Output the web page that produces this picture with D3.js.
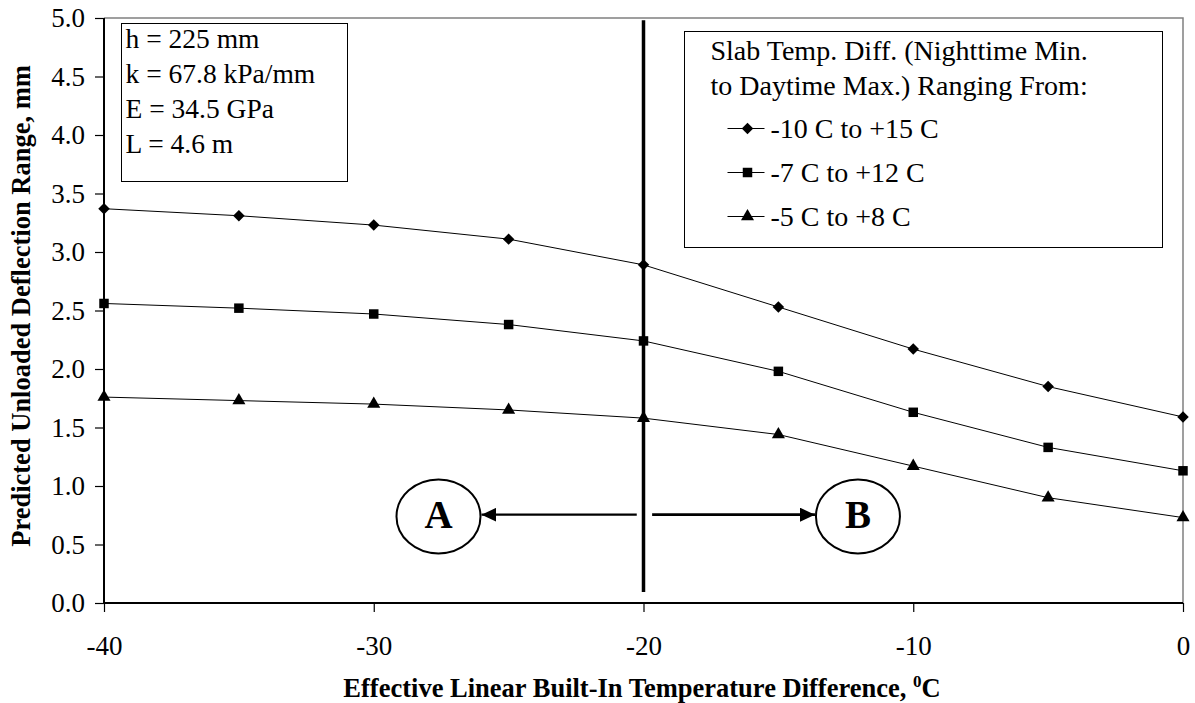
<!DOCTYPE html>
<html>
<head>
<meta charset="utf-8">
<script src="https://cdn.jsdelivr.net/npm/d3@7/dist/d3.min.js"></script>
<style>
  html, body { margin: 0; padding: 0; background: #fff; }
  svg { display: block; font-family: "Liberation Serif", "Times New Roman", serif; }
</style>
</head>
<body>
<svg id="chart" width="1195" height="703"></svg>
<script>
// Built-in temperature difference (x) and predicted deflection range per series
const tempDiff = [-40, -35, -30, -25, -20, -15, -10, -5, 0];
const seriesLabels = ["-10 C to +15 C", "-7 C to +12 C", "-5 C to +8 C"];
const seriesSymbols = ["diamond", "square", "triangle"];
const rangeHigh = [3.37, 3.31, 3.23, 3.11, 2.89, 2.53, 2.17, 1.85, 1.59];
const rangeMid  = [2.56, 2.52, 2.47, 2.38, 2.24, 1.98, 1.63, 1.33, 1.13];
const rangeLow  = [1.76, 1.73, 1.70, 1.65, 1.58, 1.44, 1.17, 0.90, 0.73];
const xTickValues = [-40, -30, -20, -10, 0];
const yTickValues = [0, 0.5, 1, 1.5, 2, 2.5, 3, 3.5, 4, 4.5, 5];
const slabParams = ["h = 225 mm", "k = 67.8 kPa/mm", "E = 34.5 GPa", "L = 4.6 m"];
const legendHeading = ["Slab Temp. Diff. (Nighttime Min.", "to Daytime Max.) Ranging From:"];
const zoneLabels = ["A", "B"];
const zoneCentres = [-27.6, -12.05];
const dividerTemp = -20;

const series = seriesLabels.map((name, i) => ({
  name,
  symbol: seriesSymbols[i],
  values: [rangeHigh, rangeMid, rangeLow][i]
}));

const svg = d3.select("#chart");
const plot = { left: 104, right: 1183, top: 18, bottom: 603 };

const x = d3.scaleLinear().domain([-40, 0]).range([plot.left, plot.right]);
const y = d3.scaleLinear().domain([0, 5]).range([plot.bottom, plot.top]);

// Plot-area frame (top and right edges in grey)
svg.append("path")
  .attr("d", `M${plot.left},${plot.top}H${plot.right}V${plot.bottom}`)
  .attr("fill", "none").attr("stroke", "#808080").attr("stroke-width", 1.5);

// Axes (plain hyphen for negative tick labels)
const xAxis = d3.axisBottom(x).tickValues(xTickValues).tickSize(9).tickPadding(24)
  .tickFormat(d => String(d));
const yAxis = d3.axisLeft(y).tickValues(yTickValues).tickSize(9).tickPadding(10)
  .tickFormat(d3.format(".1f"));

const gx = svg.append("g").attr("transform", `translate(0,${plot.bottom})`).call(xAxis);
const gy = svg.append("g").attr("transform", `translate(${plot.left},0)`).call(yAxis);
[gx, gy].forEach(g => {
  g.select(".domain").attr("stroke", "#000").attr("stroke-width", 2);
  g.selectAll(".tick line").attr("stroke", "#000").attr("stroke-width", 1.2);
  g.selectAll(".tick text").attr("fill", "#000")
    .style("font-family", "'Liberation Serif', serif").style("font-size", "27px");
});
gx.select(".domain").attr("d", `M${plot.left},0H${plot.right}`);
gy.select(".domain").attr("d", `M0,${plot.bottom}V${plot.top}`);

// Axis titles
svg.append("text")
  .attr("transform", `translate(30,306) rotate(-90)`)
  .attr("text-anchor", "middle")
  .style("font-weight", "bold").style("font-size", "26.5px")
  .text("Predicted Unloaded Deflection Range, mm");

const xTitle = svg.append("text")
  .attr("x", 642).attr("y", 697)
  .attr("text-anchor", "middle")
  .style("font-weight", "bold").style("font-size", "26.5px");
xTitle.append("tspan").text("Effective Linear Built-In Temperature Difference, ");
xTitle.append("tspan").attr("dy", -10).style("font-size", "17px").text("0");
xTitle.append("tspan").attr("dy", 10).text("C");

// Symbol generators
function symbolPath(kind) {
  if (kind === "diamond") return d3.symbol(d3.symbolSquare, 66)();
  if (kind === "square") return d3.symbol(d3.symbolSquare, 90)();
  return d3.symbol(d3.symbolTriangle, 74)();
}
function symbolTransform(kind, px, py) {
  return kind === "diamond" ? `translate(${px},${py}) rotate(45)` : `translate(${px},${py})`;
}

// Series lines and markers
const line = d3.line().x((d, i) => x(tempDiff[i])).y(d => y(d));
series.forEach(s => {
  svg.append("path").datum(s.values)
    .attr("d", line).attr("fill", "none").attr("stroke", "#000").attr("stroke-width", 1);
  svg.append("g").selectAll("path").data(s.values).join("path")
    .attr("d", symbolPath(s.symbol))
    .attr("transform", (d, i) => symbolTransform(s.symbol, x(tempDiff[i]), y(d)))
    .attr("fill", "#000");
});

// Divider at -20 C
svg.append("line")
  .attr("x1", x(dividerTemp)).attr("x2", x(dividerTemp))
  .attr("y1", y(4.98)).attr("y2", y(0.095))
  .attr("stroke", "#000").attr("stroke-width", 3.5);

// Zone markers A and B with arrows
const zoneY = 0.74, arrowY = 0.755, rx = 42, ry = 37;
const defs = svg.append("defs");
defs.append("marker").attr("id", "head")
  .attr("viewBox", "0 0 15 14").attr("refX", 15).attr("refY", 7)
  .attr("markerWidth", 15).attr("markerHeight", 14).attr("markerUnits", "userSpaceOnUse")
  .attr("orient", "auto")
  .append("path").attr("d", "M0,0L15,7L0,14Z").attr("fill", "#000");

zoneLabels.forEach((lab, i) => {
  const cx = x(zoneCentres[i]), cy = y(zoneY);
  svg.append("ellipse").attr("cx", cx).attr("cy", cy).attr("rx", rx).attr("ry", ry)
    .attr("fill", "#fff").attr("stroke", "#000").attr("stroke-width", 2);
  svg.append("text").attr("x", cx).attr("y", y(arrowY) + 13).attr("text-anchor", "middle")
    .style("font-weight", "bold").style("font-size", "39px").text(lab);
});
// arrow toward A
svg.append("line")
  .attr("x1", x(-20.25)).attr("x2", x(zoneCentres[0]) + rx + 1)
  .attr("y1", y(arrowY)).attr("y2", y(arrowY))
  .attr("stroke", "#000").attr("stroke-width", 2.2).attr("marker-end", "url(#head)");
// arrow toward B
svg.append("line")
  .attr("x1", x(-19.68)).attr("x2", x(zoneCentres[1]) - rx - 1)
  .attr("y1", y(arrowY)).attr("y2", y(arrowY))
  .attr("stroke", "#000").attr("stroke-width", 2.8).attr("marker-end", "url(#head)");

// Slab parameter box
const pbox = svg.append("g").attr("transform", "translate(121.5,23.5)");
pbox.append("rect").attr("width", 226).attr("height", 158)
  .attr("fill", "#fff").attr("stroke", "#000").attr("stroke-width", 1);
pbox.selectAll("text").data(slabParams).join("text")
  .attr("x", 4).attr("y", (d, i) => 24 + i * 35)
  .style("font-size", "27.5px").text(d => d);

// Legend
const lg = svg.append("g").attr("transform", "translate(684.5,31.5)");
lg.append("rect").attr("width", 478).attr("height", 216)
  .attr("fill", "#fff").attr("stroke", "#000").attr("stroke-width", 1);
lg.selectAll("text.head").data(legendHeading).join("text").attr("class", "head")
  .attr("x", 26).attr("y", (d, i) => 28.5 + i * 35)
  .style("font-size", "28px").text(d => d);
const rows = lg.selectAll("g.row").data(series).join("g").attr("class", "row")
  .attr("transform", (d, i) => `translate(0,${97 + i * 44})`);
rows.append("line").attr("x1", 43).attr("x2", 80).attr("y1", 0).attr("y2", 0)
  .attr("stroke", "#000").attr("stroke-width", 1);
rows.append("path").attr("d", d => symbolPath(d.symbol))
  .attr("transform", d => symbolTransform(d.symbol, 63, 0)).attr("fill", "#000");
rows.append("text").attr("x", 86).attr("y", 9.5)
  .style("font-size", "28px").text(d => d.name);
</script>
</body>
</html>
